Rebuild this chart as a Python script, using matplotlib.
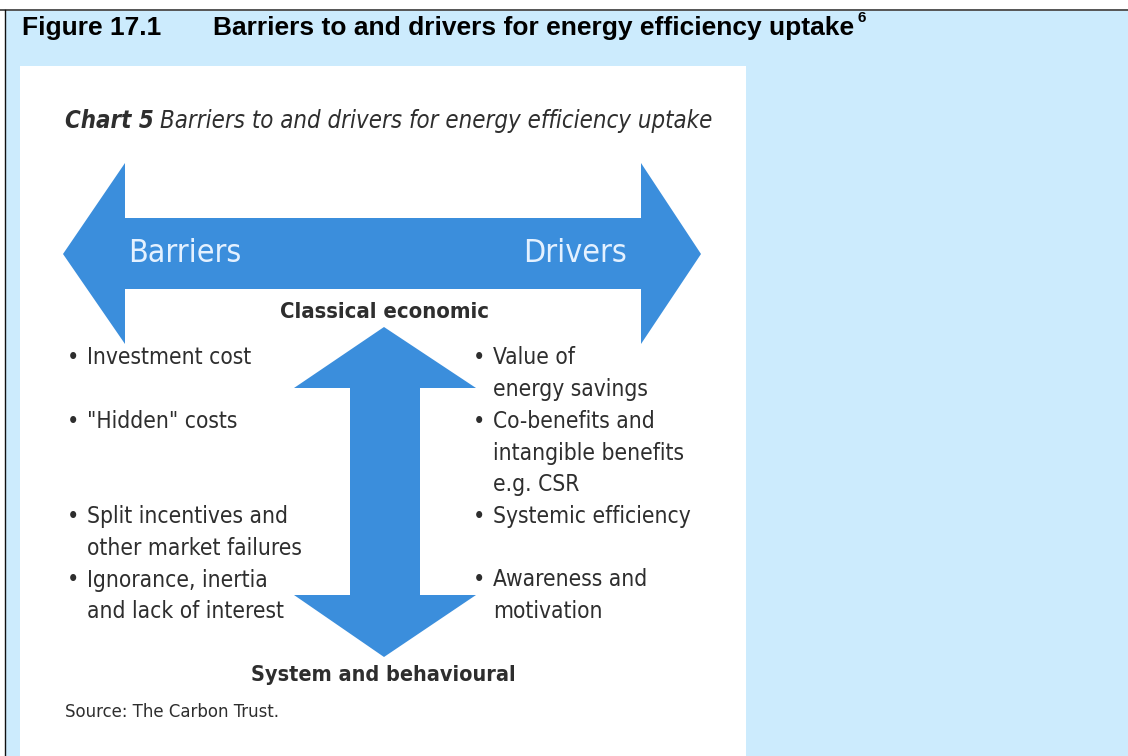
import matplotlib
matplotlib.use("Agg")
import matplotlib.pyplot as plt
from matplotlib.patches import Polygon, Rectangle

W, H = 1128, 756
BG = "#CCEBFD"
ARROW = "#3B8EDC"
TXT = "#2e2e2e"

fig_title_num = "Figure 17.1"
fig_title = "Barriers to and drivers for energy efficiency uptake"
fig_title_sup = "6"
chart_label = "Chart 5"
chart_title = "Barriers to and drivers for energy efficiency uptake"
arrow_left_label = "Barriers"
arrow_right_label = "Drivers"
top_label = "Classical economic"
bottom_label = "System and behavioural"
source_text = "Source: The Carbon Trust."

# (text lines, y of first line)
barriers = [(["Investment cost"], 358),
            (['"Hidden" costs'], 422),
            (["Split incentives and", "other market failures"], 517),
            (["Ignorance, inertia", "and lack of interest"], 580)]
drivers = [(["Value of", "energy savings"], 358),
           (["Co-benefits and", "intangible benefits", "e.g. CSR"], 422),
           (["Systemic efficiency"], 517),
           (["Awareness and", "motivation"], 580)]

fig = plt.figure(figsize=(W / 100, H / 100), dpi=100)
fig.patch.set_facecolor("white")
ax = fig.add_axes([0, 0, 1, 1])
ax.set_xlim(0, W)
ax.set_ylim(H, 0)
ax.axis("off")

# page background & borders
ax.add_patch(Rectangle((5, 10), W - 5, H - 10, facecolor=BG, edgecolor="none"))
ax.plot([0, W], [10, 10], color="#555555", lw=1.4)
ax.plot([5, 5], [10, H], color="#111111", lw=1.0)
# white panel
ax.add_patch(Rectangle((20, 66), 726, H - 66, facecolor="white", edgecolor="none"))

arial = ["Liberation Sans", "DejaVu Sans"]
ax.text(22, 28, fig_title_num, family=arial, weight="bold", fontsize=19,
        va="center", ha="left", color="black")
ax.text(213, 28, fig_title, family=arial, weight="bold", fontsize=19,
        va="center", ha="left", color="black")
ax.text(857, 18, fig_title_sup, family=arial, weight="bold", fontsize=11,
        va="center", ha="left", color="black")

body = dict(family=["DejaVu Sans"], fontstretch="condensed", color=TXT)

lab = ax.text(65, 121, chart_label, fontstyle="italic", weight="bold", fontsize=17.2,
              va="center", ha="left", **body)
fig.canvas.draw()
bb = lab.get_window_extent()
x_after = ax.transData.inverted().transform((bb.x1, bb.y0))[0]
ax.text(x_after + 6, 121, chart_title, fontstyle="italic", fontsize=17.2,
        va="center", ha="left", **body)

# horizontal double arrow
hx = [63, 125, 125, 641, 641, 701, 641, 641, 125, 125]
hy = [254, 163, 218, 218, 163, 254, 344, 289, 289, 344]
ax.add_patch(Polygon(list(zip(hx, hy)), closed=True, facecolor=ARROW, edgecolor="none"))
ax.text(128, 254, arrow_left_label, fontsize=23, color="#E4F1FF", va="center",
        ha="left", family=["DejaVu Sans"], fontstretch="condensed")
ax.text(627, 254, arrow_right_label, fontsize=23, color="#E4F1FF", va="center",
        ha="right", family=["DejaVu Sans"], fontstretch="condensed")

# vertical double arrow
vx = [384, 476, 420, 420, 476, 384, 294, 350, 350, 294]
vy = [327, 388, 388, 595, 595, 657, 595, 595, 388, 388]
ax.add_patch(Polygon(list(zip(vx, vy)), closed=True, facecolor=ARROW, edgecolor="none"))

ax.text(384, 312, top_label, fontsize=15.8, weight="bold", ha="center", va="center", **body)
ax.text(383, 675, bottom_label, fontsize=15.5, weight="bold", ha="center", va="center", **body)

LINE = 31.5
FS = 16.3
for lines, y0 in barriers:
    ax.text(67, y0, "\u2022", fontsize=17, ha="left", va="center", **body)
    for i, ln in enumerate(lines):
        ax.text(87, y0 + i * LINE, ln, fontsize=FS, ha="left", va="center", **body)
for lines, y0 in drivers:
    ax.text(473, y0, "\u2022", fontsize=17, ha="left", va="center", **body)
    for i, ln in enumerate(lines):
        ax.text(493, y0 + i * LINE, ln, fontsize=FS, ha="left", va="center", **body)

ax.text(65, 712, source_text, fontsize=13.2, ha="left", va="center", **body)

fig.savefig("out.png", dpi=100, facecolor=fig.get_facecolor())
